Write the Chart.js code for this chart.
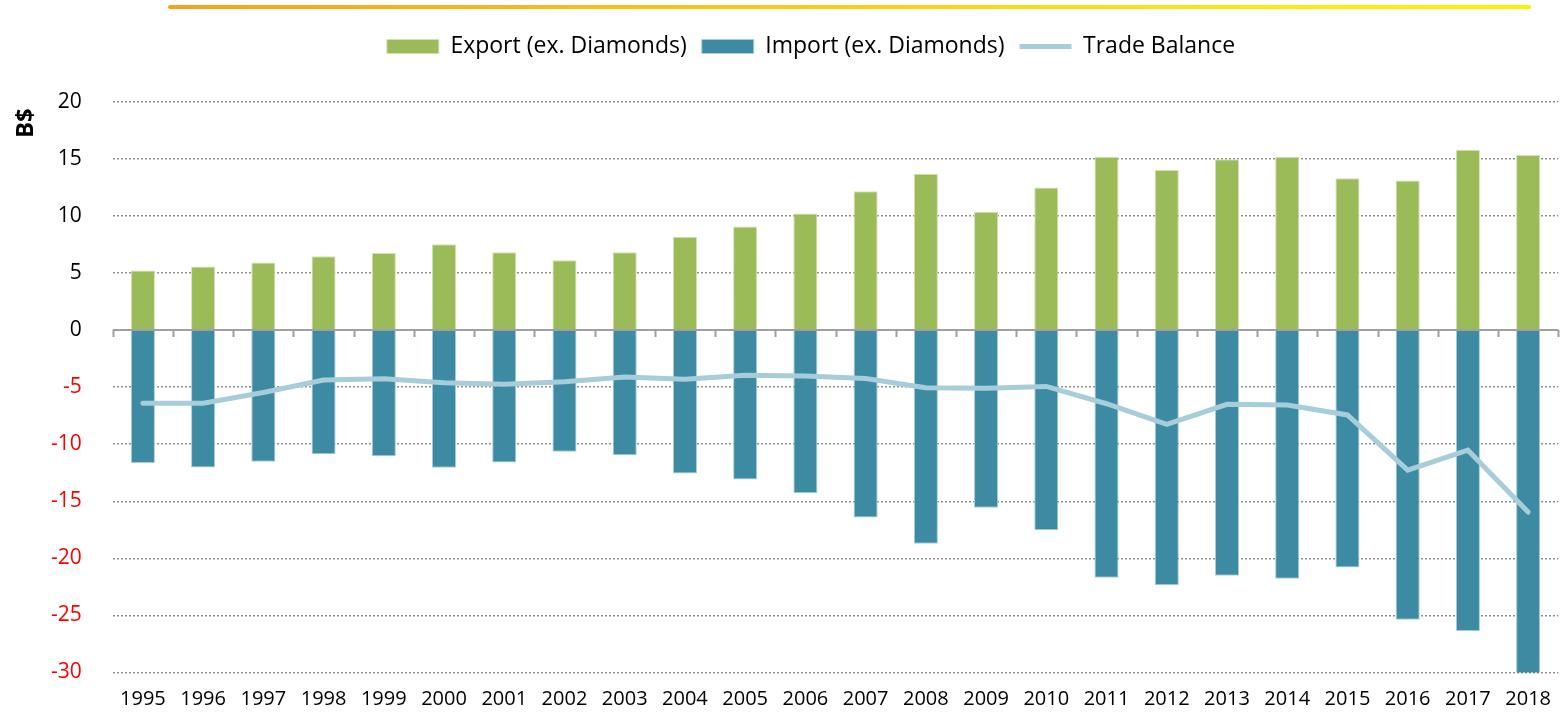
<!DOCTYPE html>
<html>
<head>
<meta charset="utf-8">
<script src="https://cdn.jsdelivr.net/npm/chart.js@4.4.1/dist/chart.umd.min.js"></script>
<style>
  html, body { margin: 0; padding: 0; background: #fff; }
  #wrap { position: relative; width: 1566px; height: 716px; }
  /* barra decorativa no topo */
  #topbar {
    position: absolute; left: 168px; top: 5px; width: 1363px; height: 4px;
    border-radius: 2px;
    background: linear-gradient(to right, #f5a31a, #fde910 80%, #fff200);
  }
  #chart { position: absolute; left: 0; top: 0; }
</style>
</head>
<body>
<div id="wrap">
  <div id="topbar"></div>
  <canvas id="chart" width="1566" height="716"></canvas>
</div>
<script>
// Dados (B$)
const years = ['1995','1996','1997','1998','1999','2000','2001','2002','2003','2004','2005','2006',
               '2007','2008','2009','2010','2011','2012','2013','2014','2015','2016','2017','2018'];

const exportsExDiamonds = [5.22, 5.57, 5.92, 6.47, 6.76, 7.52, 6.82, 6.12, 6.82, 8.19, 9.09, 10.23,
                           12.18, 13.7, 10.38, 12.5, 15.2, 14.05, 14.98, 15.2, 13.32, 13.11, 15.82, 15.36];

const importsExDiamonds = [-11.65, -12.03, -11.54, -10.87, -11.05, -12.06, -11.6, -10.66, -10.96, -12.56, -13.08, -14.3,
                           -16.43, -18.73, -15.56, -17.54, -21.71, -22.35, -21.53, -21.8, -20.8, -25.38, -26.37, -30.3];

const tradeBalance = [-6.41, -6.41, -5.47, -4.37, -4.26, -4.6, -4.75, -4.52, -4.11, -4.31, -3.96, -4.02,
                      -4.23, -5.04, -5.1, -4.93, -6.45, -8.25, -6.5, -6.56, -7.43, -12.27, -10.52, -15.95];

const FONT = "'Open Sans', 'Noto Sans', sans-serif";
const GRID_COLOR = '#8f8f8f';
const AXIS_COLOR = '#a0a0a0';

/**
 * Ajusta a legenda: espaço extra abaixo e deslocamento horizontal
 */
const legendTweak = {
  id: 'legendTweak',
  beforeInit(chart) {
    const fit = chart.legend.fit;
    chart.legend.fit = function () {
      fit.call(this);
      this.height += 34;
    };
  },
  afterLayout(chart) {
    chart.legend.left += 28;
    chart.legend.right += 28;
  }
};

/**
 * Linha do zero com marcas entre as categorias
 */
const zeroAxis = {
  id: 'zeroAxis',
  afterDatasetsDraw(chart) {
    const { ctx, chartArea, scales: { x, y } } = chart;
    const y0 = Math.round(y.getPixelForValue(0));
    const half = (x.getPixelForValue(1) - x.getPixelForValue(0)) / 2;
    ctx.save();
    ctx.strokeStyle = AXIS_COLOR;
    ctx.lineWidth = 2;
    ctx.beginPath();
    ctx.moveTo(chartArea.left, y0);
    ctx.lineTo(chartArea.right, y0);
    ctx.stroke();
    ctx.beginPath();
    for (let i = 0; i <= years.length; i++) {
      const px = Math.round(x.getPixelForValue(0) - half + i * 2 * half) + 0.5;
      ctx.moveTo(px, y0);
      ctx.lineTo(px, y0 + 7);
    }
    ctx.stroke();
    ctx.restore();
  }
};

document.addEventListener('DOMContentLoaded', () => {
  const ctx = document.getElementById('chart');

  new Chart(ctx, {
    data: {
      labels: years,
      datasets: [
        {
          type: 'bar',
          label: 'Export (ex. Diamonds)',
          data: exportsExDiamonds,
          backgroundColor: '#9bbb59',
          borderColor: '#d3e2b4',
          borderWidth: 1,
          pointStyle: 'rect',
          order: 1
        },
        {
          type: 'bar',
          label: 'Import (ex. Diamonds)',
          data: importsExDiamonds,
          backgroundColor: '#3c8ba3',
          borderColor: '#a9cdd8',
          borderWidth: 1,
          pointStyle: 'rect',
          order: 2
        },
        {
          type: 'line',
          label: 'Trade Balance',
          data: tradeBalance,
          borderColor: '#a6cdd9',
          backgroundColor: '#a6cdd9',
          borderWidth: 5,
          pointRadius: 0,
          pointStyle: 'line',
          borderCapStyle: 'round',
          tension: 0,
          order: 0
        }
      ]
    },
    options: {
      responsive: false,
      animation: false,
      layout: { padding: { top: 20, right: 0, left: 0, bottom: -11 } },
      datasets: {
        bar: { barPercentage: 0.4, categoryPercentage: 1.0, grouped: false }
      },
      plugins: {
        tooltip: { enabled: false },
        legend: {
          position: 'top',
          labels: {
            usePointStyle: true,
            pointStyleWidth: 52,
            boxHeight: 14,
            padding: 15,
            color: '#000',
            font: { family: FONT, size: 23 },
            sort: (a, b) => a.datasetIndex - b.datasetIndex
          }
        }
      },
      scales: {
        x: {
          grid: { display: false, drawTicks: false },
          border: { display: false },
          ticks: {
            color: '#000',
            font: { family: FONT, size: 20 },
            maxRotation: 0,
            autoSkip: false,
            padding: 15
          }
        },
        y: {
          min: -30,
          max: 20,
          ticks: {
            stepSize: 5,
            padding: 31,
            color: c => (c.tick && c.tick.value < 0 ? '#ff0000' : '#000'),
            font: { family: FONT, size: 21 }
          },
          grid: {
            color: GRID_COLOR,
            lineWidth: 1.5,
            drawTicks: false
          },
          border: { display: false, dash: [2, 2] },
          title: {
            display: true,
            text: 'B$ ',
            align: 'end',
            color: '#000',
            font: { family: FONT, size: 24, weight: 'bold', lineHeight: 1 },
            padding: { top: 14, bottom: -18 }
          }
        }
      }
    },
    plugins: [legendTweak, zeroAxis]
  });
});
</script>
</body>
</html>
